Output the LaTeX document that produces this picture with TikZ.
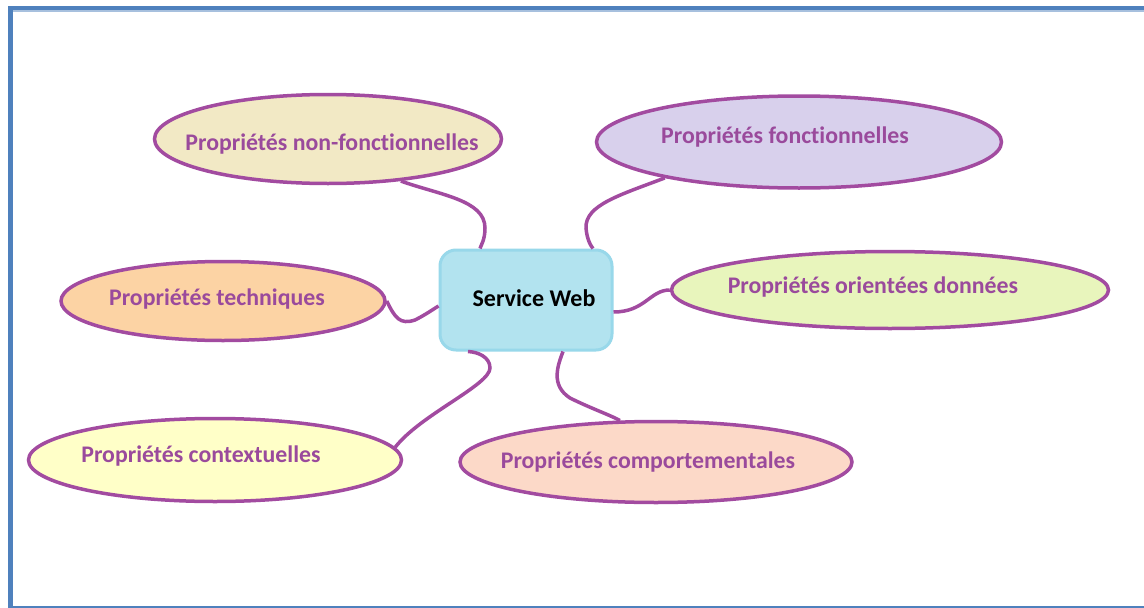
\documentclass[tikz,border=0pt]{standalone}
\usepackage{fontspec}
\setmainfont{Carlito}[Ligatures=NoCommon]
\usetikzlibrary{shapes.geometric}
\definecolor{frameblue}{HTML}{4F81BD}
\definecolor{linkpurple}{HTML}{A24BA0}
\definecolor{txtpurple}{HTML}{9A4A9C}
\definecolor{fillnf}{HTML}{F2E9C5}
\definecolor{fillfo}{HTML}{D8D0EC}
\definecolor{fillod}{HTML}{E8F5BC}
\definecolor{fillte}{HTML}{FCD3A4}
\definecolor{fillct}{HTML}{FFFFC8}
\definecolor{fillco}{HTML}{FCD9C8}
\definecolor{boxfill}{HTML}{B2E3EF}
\definecolor{boxline}{HTML}{98D8EA}
\tikzset{
  prop/.style={ellipse, draw=linkpurple, line width=3.5pt, inner sep=0pt},
  lbl/.style={anchor=base, inner sep=0pt, text=txtpurple, font=\fontsize{23.8}{28}\selectfont\bfseries},
  link/.style={draw=linkpurple, line width=3.5pt},
  centerbox/.style={draw=boxline, fill=boxfill, line width=3pt, rounded corners=16pt, minimum width=172pt, minimum height=100pt, inner sep=0pt},
}
\begin{document}
\begin{tikzpicture}[x=1pt,y=-1pt]
\useasboundingbox (0,0) rectangle (1144,608);
\fill[white] (0,0) rectangle (1144,608);
% frame
\fill[frameblue] (8,6) rectangle (1144,10);
\fill[frameblue!50] (8,10) rectangle (1144,11.5);
\fill[frameblue] (8,6) rectangle (12.5,608);
\fill[frameblue] (8,606) rectangle (1144,607.5);
% central box
\node[centerbox] (box) at (526,300) {};
\node[anchor=base, inner sep=0pt, font=\fontsize{24}{28}\selectfont\bfseries] (swt) at (534,306) {Service Web};
% ellipses
\node[prop, fill=fillnf, minimum width=347pt, minimum height=89pt] (nf) at (328,139) {};
\node[prop, fill=fillfo, minimum width=405pt, minimum height=92pt] (fo) at (799,142) {};
\node[prop, fill=fillod, minimum width=437pt, minimum height=77pt] (od) at (890,290) {};
\node[prop, fill=fillte, minimum width=324pt, minimum height=79pt] (te) at (223,301) {};
\node[prop, fill=fillct, minimum width=373pt, minimum height=83pt] (ct) at (215,460) {};
\node[prop, fill=fillco, minimum width=392pt, minimum height=81pt] (co) at (656,462) {};
% labels
\node[lbl] (nft) at (332,150) {Propriétés non-fonctionnelles};
\node[lbl] (fot) at (785,143) {Propriétés fonctionnelles};
\node[lbl] (odt) at (873,293) {Propriétés orientées données};
\node[lbl] (tet) at (217,305) {Propriétés techniques};
\node[lbl] (ctt) at (201,462) {Propriétés contextuelles};
\node[lbl] (cot) at (648,468) {Propriétés comportementales};
% connectors
\path[link] (nf.-30) .. controls (440,195) and (485,200) .. (485,228) .. controls (485,240) and (481,245) .. ([xshift=-46pt]box.north);
\path[link] (fo.195) .. controls (620,195) and (585,205) .. (586,228) .. controls (587,240) and (591,246) .. ([xshift=67pt]box.north);
\path[link] (od.west) .. controls (650,290) and (645,312) .. ([yshift=-12pt]box.east);
\path[link] (te.east) .. controls (395,318) and (400,325) .. (415,320) .. controls (425,315) and (432,310) .. ([yshift=-6pt]box.west);
\path[link] (ct.4) .. controls (420,415) and (490,385) .. (490,368) .. controls (490,357) and (478,352) .. ([xshift=-58pt]box.south);
\path[link] ([xshift=37pt]box.south) .. controls (558,365) and (550,385) .. (570,398) .. controls (590,408) and (610,415) .. (co.131);
\end{tikzpicture}
\end{document}
